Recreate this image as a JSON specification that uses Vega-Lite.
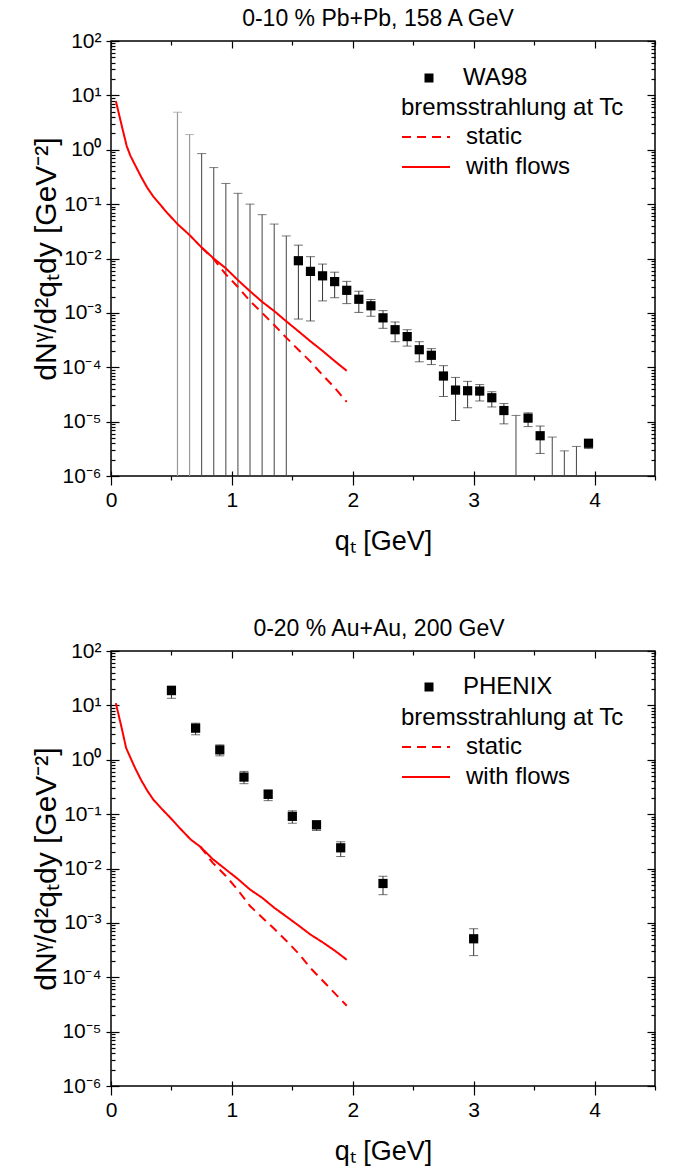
{
"$schema": "https://vega.github.io/schema/vega-lite/v6.json",
"padding": {"left": 30, "top": 7, "right": 10, "bottom": 5},
"spacing": 62,
"resolve": {"scale": {"fill": "independent", "strokeDash": "independent"}, "legend": {"fill": "independent", "strokeDash": "independent"}},
"config": {
  "font": "Liberation Sans",
  "view": {"stroke": "black", "strokeWidth": 1.5},
  "axis": {"domain": false, "grid": false, "labelFont": "Liberation Sans", "labelFontSize": 21, "labelColor": "black", "tickColor": "black", "tickWidth": 1.2, "titleFont": "Liberation Sans", "titleFontSize": 27, "titleFontWeight": "normal", "titleColor": "black"},
  "title": {"font": "Liberation Sans", "fontSize": 23, "fontWeight": "normal", "color": "black", "offset": -1},
  "legend": {"labelFont": "Liberation Sans", "titleFont": "Liberation Sans", "labelColor": "black", "titleColor": "black", "titleLimit": 400, "labelLimit": 400}
},
"datasets": {
  "wa98": [
    {"q": 1.55, "y": 9.1e-3, "lo": 7.7e-4, "hi": 1.76e-2, "series": "WA98"},
    {"q": 1.65, "y": 5.8e-3, "lo": 7.1e-4, "hi": 1.08e-2, "series": "WA98"},
    {"q": 1.75, "y": 4.8e-3, "lo": 1.66e-3, "hi": 7.9e-3, "series": "WA98"},
    {"q": 1.85, "y": 3.76e-3, "lo": 1.9e-3, "hi": 5.6e-3, "series": "WA98"},
    {"q": 1.95, "y": 2.6e-3, "lo": 1.48e-3, "hi": 3.8e-3, "series": "WA98"},
    {"q": 2.05, "y": 1.78e-3, "lo": 1.02e-3, "hi": 2.5e-3, "series": "WA98"},
    {"q": 2.15, "y": 1.35e-3, "lo": 8.7e-4, "hi": 1.76e-3, "series": "WA98"},
    {"q": 2.25, "y": 8.1e-4, "lo": 5.2e-4, "hi": 1.1e-3, "series": "WA98"},
    {"q": 2.35, "y": 4.9e-4, "lo": 2.95e-4, "hi": 6.8e-4, "series": "WA98"},
    {"q": 2.45, "y": 3.66e-4, "lo": 2.45e-4, "hi": 4.9e-4, "series": "WA98"},
    {"q": 2.55, "y": 2.1e-4, "lo": 1.26e-4, "hi": 2.95e-4, "series": "WA98"},
    {"q": 2.65, "y": 1.66e-4, "lo": 1.12e-4, "hi": 2.2e-4, "series": "WA98"},
    {"q": 2.75, "y": 6.9e-5, "lo": 2.9e-5, "hi": 1.07e-4, "series": "WA98"},
    {"q": 2.85, "y": 3.8e-5, "lo": 1.05e-5, "hi": 6.5e-5, "series": "WA98"},
    {"q": 2.95, "y": 3.7e-5, "lo": 1.8e-5, "hi": 5.5e-5, "series": "WA98"},
    {"q": 3.05, "y": 3.65e-5, "lo": 2.4e-5, "hi": 4.8e-5, "series": "WA98"},
    {"q": 3.15, "y": 2.75e-5, "lo": 1.86e-5, "hi": 3.55e-5, "series": "WA98"},
    {"q": 3.25, "y": 1.6e-5, "lo": 9.1e-6, "hi": 2.15e-5, "series": "WA98"},
    {"q": 3.45, "y": 1.16e-5, "lo": 8.1e-6, "hi": 1.45e-5, "series": "WA98"},
    {"q": 3.55, "y": 5.5e-6, "lo": 2.6e-6, "hi": 8.3e-6, "series": "WA98"},
    {"q": 3.95, "y": 4.0e-6, "lo": 3.2e-6, "hi": 4.7e-6, "series": "WA98"}
  ],
  "wa98lim": [
    {"q": 0.55, "lo": 1e-6, "hi": 4.9},
    {"q": 0.65, "lo": 1e-6, "hi": 1.9},
    {"q": 0.75, "lo": 1e-6, "hi": 0.85},
    {"q": 0.85, "lo": 1e-6, "hi": 0.47},
    {"q": 0.95, "lo": 1e-6, "hi": 0.24},
    {"q": 1.05, "lo": 1e-6, "hi": 0.158},
    {"q": 1.15, "lo": 1e-6, "hi": 0.10},
    {"q": 1.25, "lo": 1e-6, "hi": 0.064},
    {"q": 1.35, "lo": 1e-6, "hi": 0.043},
    {"q": 1.45, "lo": 1e-6, "hi": 0.026},
    {"q": 3.35, "lo": 1e-6, "hi": 1.3e-5},
    {"q": 3.65, "lo": 1e-6, "hi": 5.2e-6},
    {"q": 3.75, "lo": 1e-6, "hi": 2.9e-6},
    {"q": 3.85, "lo": 1e-6, "hi": 3.5e-6}
  ],
  "curvesTop": [
    {"q": 0.04, "y": 7.9, "curve": "with flows"},
    {"q": 0.09, "y": 2.7, "curve": "with flows"},
    {"q": 0.13, "y": 1.17, "curve": "with flows"},
    {"q": 0.16, "y": 0.78, "curve": "with flows"},
    {"q": 0.2, "y": 0.52, "curve": "with flows"},
    {"q": 0.25, "y": 0.315, "curve": "with flows"},
    {"q": 0.3, "y": 0.20, "curve": "with flows"},
    {"q": 0.35, "y": 0.138, "curve": "with flows"},
    {"q": 0.4, "y": 0.102, "curve": "with flows"},
    {"q": 0.46, "y": 0.071, "curve": "with flows"},
    {"q": 0.55, "y": 0.043, "curve": "with flows"},
    {"q": 0.65, "y": 0.027, "curve": "with flows"},
    {"q": 0.75, "y": 0.0159, "curve": "with flows"},
    {"q": 0.85, "y": 0.0100, "curve": "with flows"},
    {"q": 0.95, "y": 0.0066, "curve": "with flows"},
    {"q": 1.05, "y": 0.0040, "curve": "with flows"},
    {"q": 1.15, "y": 0.0025, "curve": "with flows"},
    {"q": 1.25, "y": 0.0016, "curve": "with flows"},
    {"q": 1.35, "y": 0.00108, "curve": "with flows"},
    {"q": 1.45, "y": 0.00070, "curve": "with flows"},
    {"q": 1.55, "y": 0.00046, "curve": "with flows"},
    {"q": 1.65, "y": 0.00030, "curve": "with flows"},
    {"q": 1.75, "y": 0.00020, "curve": "with flows"},
    {"q": 1.85, "y": 0.00013, "curve": "with flows"},
    {"q": 1.95, "y": 0.000086, "curve": "with flows"},
    {"q": 0.75, "y": 0.0159, "curve": "static"},
    {"q": 0.85, "y": 0.0097, "curve": "static"},
    {"q": 0.95, "y": 0.0051, "curve": "static"},
    {"q": 1.05, "y": 0.0030, "curve": "static"},
    {"q": 1.15, "y": 0.00165, "curve": "static"},
    {"q": 1.25, "y": 0.00100, "curve": "static"},
    {"q": 1.35, "y": 0.00060, "curve": "static"},
    {"q": 1.45, "y": 0.00035, "curve": "static"},
    {"q": 1.55, "y": 0.00021, "curve": "static"},
    {"q": 1.65, "y": 0.000127, "curve": "static"},
    {"q": 1.75, "y": 0.000072, "curve": "static"},
    {"q": 1.85, "y": 0.000042, "curve": "static"},
    {"q": 1.95, "y": 0.000023, "curve": "static"}
  ],
  "phenix": [
    {"q": 0.5, "y": 18.7, "lo": 13.5, "hi": 22.8, "series": "PHENIX"},
    {"q": 0.7, "y": 3.81, "lo": 2.88, "hi": 4.7, "series": "PHENIX"},
    {"q": 0.9, "y": 1.52, "lo": 1.18, "hi": 1.88, "series": "PHENIX"},
    {"q": 1.1, "y": 0.48, "lo": 0.363, "hi": 0.61, "series": "PHENIX"},
    {"q": 1.3, "y": 0.231, "lo": 0.177, "hi": 0.28, "series": "PHENIX"},
    {"q": 1.5, "y": 0.091, "lo": 0.068, "hi": 0.115, "series": "PHENIX"},
    {"q": 1.7, "y": 0.0634, "lo": 0.05, "hi": 0.076, "series": "PHENIX"},
    {"q": 1.9, "y": 0.024, "lo": 0.0166, "hi": 0.031, "series": "PHENIX"},
    {"q": 2.25, "y": 0.0053, "lo": 0.0033, "hi": 0.0072, "series": "PHENIX"},
    {"q": 3.0, "y": 0.00051, "lo": 0.00025, "hi": 0.00078, "series": "PHENIX"}
  ],
  "curvesBot": [
    {"q": 0.04, "y": 11, "curve": "with flows"},
    {"q": 0.09, "y": 3.7, "curve": "with flows"},
    {"q": 0.125, "y": 1.65, "curve": "with flows"},
    {"q": 0.16, "y": 1.1, "curve": "with flows"},
    {"q": 0.2, "y": 0.70, "curve": "with flows"},
    {"q": 0.25, "y": 0.42, "curve": "with flows"},
    {"q": 0.3, "y": 0.27, "curve": "with flows"},
    {"q": 0.35, "y": 0.185, "curve": "with flows"},
    {"q": 0.42, "y": 0.125, "curve": "with flows"},
    {"q": 0.49, "y": 0.086, "curve": "with flows"},
    {"q": 0.57, "y": 0.055, "curve": "with flows"},
    {"q": 0.66, "y": 0.034, "curve": "with flows"},
    {"q": 0.74, "y": 0.025, "curve": "with flows"},
    {"q": 0.84, "y": 0.0150, "curve": "with flows"},
    {"q": 0.95, "y": 0.0096, "curve": "with flows"},
    {"q": 1.05, "y": 0.0064, "curve": "with flows"},
    {"q": 1.15, "y": 0.0041, "curve": "with flows"},
    {"q": 1.25, "y": 0.0029, "curve": "with flows"},
    {"q": 1.35, "y": 0.0019, "curve": "with flows"},
    {"q": 1.45, "y": 0.00131, "curve": "with flows"},
    {"q": 1.55, "y": 0.00090, "curve": "with flows"},
    {"q": 1.65, "y": 0.00061, "curve": "with flows"},
    {"q": 1.75, "y": 0.00044, "curve": "with flows"},
    {"q": 1.85, "y": 0.00031, "curve": "with flows"},
    {"q": 1.95, "y": 0.00021, "curve": "with flows"},
    {"q": 0.74, "y": 0.025, "curve": "static"},
    {"q": 0.84, "y": 0.0128, "curve": "static"},
    {"q": 0.95, "y": 0.0073, "curve": "static"},
    {"q": 1.05, "y": 0.0040, "curve": "static"},
    {"q": 1.15, "y": 0.00204, "curve": "static"},
    {"q": 1.25, "y": 0.00126, "curve": "static"},
    {"q": 1.35, "y": 0.00078, "curve": "static"},
    {"q": 1.45, "y": 0.00047, "curve": "static"},
    {"q": 1.55, "y": 0.000275, "curve": "static"},
    {"q": 1.65, "y": 0.000148, "curve": "static"},
    {"q": 1.75, "y": 0.000087, "curve": "static"},
    {"q": 1.85, "y": 0.000051, "curve": "static"},
    {"q": 1.95, "y": 0.000030, "curve": "static"}
  ]
},
"vconcat": [
  {
    "title": {"text": "0-10 % Pb+Pb, 158 A GeV", "dx": -5},
    "width": 544, "height": 435,
    "resolve": {"axis": {"x": "independent", "y": "independent"}},
    "layer": [
      {
        "data": {"name": "wa98lim"},
        "transform": [{"filter": "datum.q > 0.7"}],
        "mark": {"type": "rule", "color": "#444", "strokeWidth": 1},
        "encoding": {
          "x": {"field": "q", "type": "quantitative", "scale": {"domain": [0, 4.5], "nice": false, "zero": false}, "axis": {"orient": "bottom", "values": [0.5, 1.5, 2.5, 3.5, 4.5], "labels": false, "tickSize": 4, "title": null}},
          "y": {"field": "lo", "type": "quantitative", "scale": {"type": "log", "domain": [1e-6, 100], "nice": false}, "axis": {"orient": "left", "values": [1e-6, 1e-5, 1e-4, 0.001, 0.01, 0.1, 1, 10, 100], "labels": false, "tickSize": 8, "offset": -8, "title": null}},
          "y2": {"field": "hi"}
        }
      },
      {
        "data": {"name": "wa98lim"},
        "transform": [{"filter": "datum.q > 0.7"}],
        "mark": {"type": "tick", "orient": "horizontal", "size": 9, "thickness": 1, "color": "#444"},
        "encoding": {
          "x": {"field": "q", "type": "quantitative", "axis": {"orient": "bottom", "values": [0, 1, 2, 3, 4], "labels": false, "tickSize": 5, "offset": -5, "title": null}},
          "y": {"field": "hi", "type": "quantitative", "axis": {"orient": "left", "values": [2e-6,3e-6,4e-6,5e-6,6e-6,7e-6,8e-6,9e-6,2e-5,3e-5,4e-5,5e-5,6e-5,7e-5,8e-5,9e-5,2e-4,3e-4,4e-4,5e-4,6e-4,7e-4,8e-4,9e-4,2e-3,3e-3,4e-3,5e-3,6e-3,7e-3,8e-3,9e-3,0.02,0.03,0.04,0.05,0.06,0.07,0.08,0.09,0.2,0.3,0.4,0.5,0.6,0.7,0.8,0.9,2,3,4,5,6,7,8,9,20,30,40,50,60,70,80,90], "labels": false, "tickSize": 4, "offset": -4, "title": null}}
        }
      },
      {
        "data": {"name": "wa98lim"},
        "transform": [{"filter": "datum.q < 0.7"}],
        "mark": {"type": "rule", "color": "#999", "strokeWidth": 1.2},
        "encoding": {
          "x": {"field": "q", "type": "quantitative", "axis": null},
          "y": {"field": "lo", "type": "quantitative", "axis": null},
          "y2": {"field": "hi"}
        }
      },
      {
        "data": {"name": "wa98lim"},
        "transform": [{"filter": "datum.q < 0.7"}],
        "mark": {"type": "tick", "orient": "horizontal", "size": 9, "thickness": 1, "color": "#999"},
        "encoding": {
          "x": {"field": "q", "type": "quantitative", "axis": null},
          "y": {"field": "hi", "type": "quantitative", "axis": null}
        }
      },
      {
        "data": {"name": "wa98"},
        "mark": {"type": "rule", "color": "#333", "strokeWidth": 1},
        "encoding": {
          "x": {"field": "q", "type": "quantitative", "axis": {"orient": "top", "values": [0, 1, 2, 3, 4], "labels": false, "tickSize": 7, "offset": -7, "title": null}},
          "y": {"field": "lo", "type": "quantitative", "axis": {"orient": "right", "values": [1e-6, 1e-5, 1e-4, 0.001, 0.01, 0.1, 1, 10, 100], "labels": false, "tickSize": 8, "offset": -8, "title": null}},
          "y2": {"field": "hi"}
        }
      },
      {
        "data": {"name": "wa98"},
        "mark": {"type": "tick", "orient": "horizontal", "size": 9, "thickness": 1, "color": "#333"},
        "encoding": {
          "x": {"field": "q", "type": "quantitative", "axis": {"orient": "top", "values": [0.5, 1.5, 2.5, 3.5, 4.5], "labels": false, "tickSize": 4, "offset": -4, "title": null}},
          "y": {"field": "hi", "type": "quantitative", "axis": {"orient": "right", "values": [2e-6,3e-6,4e-6,5e-6,6e-6,7e-6,8e-6,9e-6,2e-5,3e-5,4e-5,5e-5,6e-5,7e-5,8e-5,9e-5,2e-4,3e-4,4e-4,5e-4,6e-4,7e-4,8e-4,9e-4,2e-3,3e-3,4e-3,5e-3,6e-3,7e-3,8e-3,9e-3,0.02,0.03,0.04,0.05,0.06,0.07,0.08,0.09,0.2,0.3,0.4,0.5,0.6,0.7,0.8,0.9,2,3,4,5,6,7,8,9,20,30,40,50,60,70,80,90], "labels": false, "tickSize": 4, "offset": -4, "title": null}}
        }
      },
      {
        "data": {"name": "wa98"},
        "mark": {"type": "tick", "orient": "horizontal", "size": 9, "thickness": 1, "color": "#333"},
        "encoding": {
          "x": {"field": "q", "type": "quantitative", "axis": null},
          "y": {"field": "lo", "type": "quantitative", "axis": null}
        }
      },
      {
        "data": {"name": "wa98"},
        "mark": {"type": "point", "shape": "square", "filled": true, "size": 85, "opacity": 1},
        "encoding": {
          "x": {"field": "q", "type": "quantitative", "axis": null},
          "y": {"field": "y", "type": "quantitative", "axis": null},
          "fill": {"field": "series", "type": "nominal", "scale": {"range": ["black"]}, "legend": {"orient": "none", "legendX": 306, "legendY": 25, "title": null, "labelFontSize": 24, "symbolType": "square", "symbolSize": 81, "symbolStrokeWidth": 0, "labelOffset": 22, "padding": 0}}
        }
      },
      {
        "data": {"name": "curvesTop"},
        "mark": {"type": "line", "color": "red", "strokeWidth": 2},
        "encoding": {
          "x": {"field": "q", "type": "quantitative", "axis": {"orient": "bottom", "values": [0, 1, 2, 3, 4], "format": "d", "tickSize": 9, "labelPadding": 4, "labelOverlap": false, "labelFlush": false, "title": "qₜ [GeV]", "titlePadding": 18}},
          "y": {"field": "y", "type": "quantitative", "axis": {"orient": "left", "values": [1e-6, 1e-5, 1e-4, 0.001, 0.01, 0.1, 1, 10, 100], "labelExpr": "'10' + ['⁻⁶','⁻⁵','⁻⁴','⁻³','⁻²','⁻¹','⁰','¹','²'][round(log(datum.value)/LN10)+6]", "tickSize": 5, "labelPadding": 5, "labelOverlap": false, "labelFlush": false, "title": "dNᵞ/d²qₜdy [GeV⁻²]", "titleFontSize": 30, "titlePadding": 0}},
          "strokeDash": {"field": "curve", "type": "nominal", "scale": {"domain": ["static", "with flows"], "range": [[9, 6], [1, 0]]}, "legend": {"orient": "none", "legendX": 290, "legendY": 55, "title": "bremsstrahlung at Tc", "titleFontSize": 24, "titleFontWeight": "normal", "labelFontSize": 24, "symbolType": "M-2.4,0H2.4", "symbolSize": 400, "symbolOffset": 13, "symbolStrokeColor": "red", "symbolStrokeWidth": 2, "labelOffset": 28, "rowPadding": 6, "padding": 0}}
        }
      }
    ]
  },
  {
    "title": {"text": "0-20 % Au+Au, 200 GeV", "dx": -4},
    "width": 544, "height": 435,
    "resolve": {"axis": {"x": "independent", "y": "independent"}},
    "layer": [
      {
        "data": {"name": "phenix"},
        "mark": {"type": "rule", "color": "#333", "strokeWidth": 1},
        "encoding": {
          "x": {"field": "q", "type": "quantitative", "scale": {"domain": [0, 4.5], "nice": false, "zero": false}, "axis": {"orient": "bottom", "values": [0.5, 1.5, 2.5, 3.5, 4.5], "labels": false, "tickSize": 4, "title": null}},
          "y": {"field": "lo", "type": "quantitative", "scale": {"type": "log", "domain": [1e-6, 100], "nice": false}, "axis": {"orient": "left", "values": [1e-6, 1e-5, 1e-4, 0.001, 0.01, 0.1, 1, 10, 100], "labels": false, "tickSize": 8, "offset": -8, "title": null}},
          "y2": {"field": "hi"}
        }
      },
      {
        "data": {"name": "phenix"},
        "mark": {"type": "tick", "orient": "horizontal", "size": 9, "thickness": 1, "color": "#333"},
        "encoding": {
          "x": {"field": "q", "type": "quantitative", "axis": {"orient": "bottom", "values": [0, 1, 2, 3, 4], "labels": false, "tickSize": 5, "offset": -5, "title": null}},
          "y": {"field": "hi", "type": "quantitative", "axis": {"orient": "left", "values": [2e-6,3e-6,4e-6,5e-6,6e-6,7e-6,8e-6,9e-6,2e-5,3e-5,4e-5,5e-5,6e-5,7e-5,8e-5,9e-5,2e-4,3e-4,4e-4,5e-4,6e-4,7e-4,8e-4,9e-4,2e-3,3e-3,4e-3,5e-3,6e-3,7e-3,8e-3,9e-3,0.02,0.03,0.04,0.05,0.06,0.07,0.08,0.09,0.2,0.3,0.4,0.5,0.6,0.7,0.8,0.9,2,3,4,5,6,7,8,9,20,30,40,50,60,70,80,90], "labels": false, "tickSize": 4, "offset": -4, "title": null}}
        }
      },
      {
        "data": {"name": "phenix"},
        "mark": {"type": "tick", "orient": "horizontal", "size": 9, "thickness": 1, "color": "#333"},
        "encoding": {
          "x": {"field": "q", "type": "quantitative", "axis": {"orient": "top", "values": [0, 1, 2, 3, 4], "labels": false, "tickSize": 7, "offset": -7, "title": null}},
          "y": {"field": "lo", "type": "quantitative", "axis": {"orient": "right", "values": [1e-6, 1e-5, 1e-4, 0.001, 0.01, 0.1, 1, 10, 100], "labels": false, "tickSize": 8, "offset": -8, "title": null}}
        }
      },
      {
        "data": {"name": "phenix"},
        "mark": {"type": "point", "shape": "square", "filled": true, "size": 85, "opacity": 1},
        "encoding": {
          "x": {"field": "q", "type": "quantitative", "axis": {"orient": "top", "values": [0.5, 1.5, 2.5, 3.5, 4.5], "labels": false, "tickSize": 4, "offset": -4, "title": null}},
          "y": {"field": "y", "type": "quantitative", "axis": {"orient": "right", "values": [2e-6,3e-6,4e-6,5e-6,6e-6,7e-6,8e-6,9e-6,2e-5,3e-5,4e-5,5e-5,6e-5,7e-5,8e-5,9e-5,2e-4,3e-4,4e-4,5e-4,6e-4,7e-4,8e-4,9e-4,2e-3,3e-3,4e-3,5e-3,6e-3,7e-3,8e-3,9e-3,0.02,0.03,0.04,0.05,0.06,0.07,0.08,0.09,0.2,0.3,0.4,0.5,0.6,0.7,0.8,0.9,2,3,4,5,6,7,8,9,20,30,40,50,60,70,80,90], "labels": false, "tickSize": 4, "offset": -4, "title": null}},
          "fill": {"field": "series", "type": "nominal", "scale": {"range": ["black"]}, "legend": {"orient": "none", "legendX": 306, "legendY": 24, "title": null, "labelFontSize": 24, "symbolType": "square", "symbolSize": 81, "symbolStrokeWidth": 0, "labelOffset": 22, "padding": 0}}
        }
      },
      {
        "data": {"name": "curvesBot"},
        "mark": {"type": "line", "color": "red", "strokeWidth": 2},
        "encoding": {
          "x": {"field": "q", "type": "quantitative", "axis": {"orient": "bottom", "values": [0, 1, 2, 3, 4], "format": "d", "tickSize": 9, "labelPadding": 4, "labelOverlap": false, "labelFlush": false, "title": "qₜ [GeV]", "titlePadding": 18}},
          "y": {"field": "y", "type": "quantitative", "axis": {"orient": "left", "values": [1e-6, 1e-5, 1e-4, 0.001, 0.01, 0.1, 1, 10, 100], "labelExpr": "'10' + ['⁻⁶','⁻⁵','⁻⁴','⁻³','⁻²','⁻¹','⁰','¹','²'][round(log(datum.value)/LN10)+6]", "tickSize": 5, "labelPadding": 5, "labelOverlap": false, "labelFlush": false, "title": "dNᵞ/d²qₜdy [GeV⁻²]", "titleFontSize": 30, "titlePadding": 0}},
          "strokeDash": {"field": "curve", "type": "nominal", "scale": {"domain": ["static", "with flows"], "range": [[9, 6], [1, 0]]}, "legend": {"orient": "none", "legendX": 290, "legendY": 55, "title": "bremsstrahlung at Tc", "titleFontSize": 24, "titleFontWeight": "normal", "labelFontSize": 24, "symbolType": "M-2.4,0H2.4", "symbolSize": 400, "symbolOffset": 13, "symbolStrokeColor": "red", "symbolStrokeWidth": 2, "labelOffset": 28, "rowPadding": 6, "padding": 0}}
        }
      }
    ]
  }
]
}
